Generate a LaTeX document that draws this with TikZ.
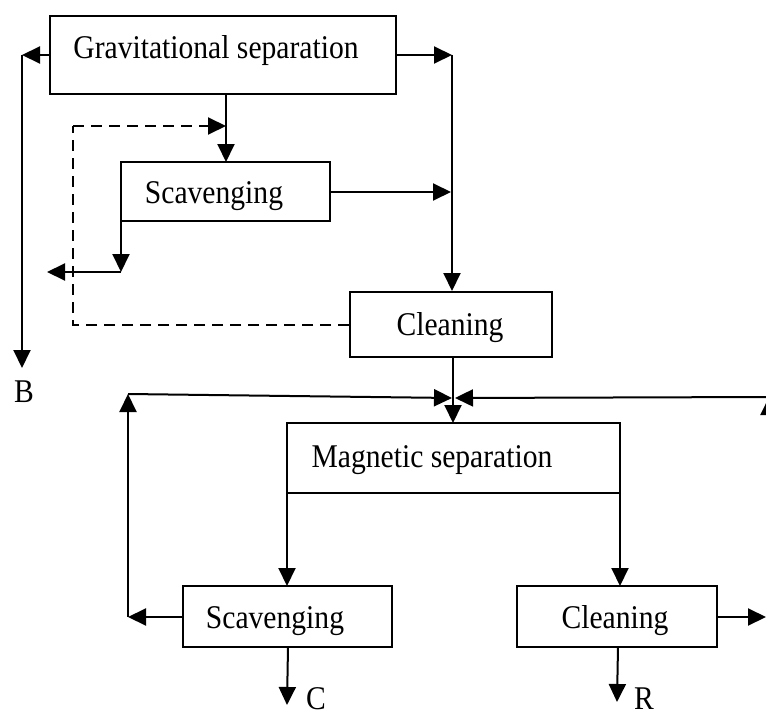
\documentclass[tikz,border=0pt]{standalone}
\usepackage{fontspec}
\setmainfont{Liberation Serif}
\usetikzlibrary{arrows.meta}
\tikzset{
  box/.style={draw, line width=2pt, rectangle, inner sep=0pt},
  txt/.style={inner sep=0pt, anchor=base, font=\fontsize{29.6}{32}\selectfont},
  tip/.style={-{Triangle[length=18pt,width=17pt]}},
  arr/.style={line width=2pt, tip},
  dsh/.style={line width=2pt, dash pattern=on 11pt off 7pt}
}
\newcommand{\tx}[1]{\scalebox{1}[1.12]{#1}}
\begin{document}
\begin{tikzpicture}[x=1pt,y=-1pt]
\useasboundingbox (0,0) rectangle (766,717);
\clip (0,0) rectangle (766,717);
\fill[white] (0,0) rectangle (766,717);
% boxes
\node[box, minimum width=346pt, minimum height=78pt] (g) at (223,55) {};
\node[box, minimum width=209pt, minimum height=59pt] (s1) at (225.5,191.5) {};
\node[box, minimum width=202pt, minimum height=65pt] (c1) at (451,324.5) {};
\node[box, minimum width=333pt, minimum height=70pt] (m) at (453.5,458) {};
\node[box, minimum width=209pt, minimum height=61pt] (s2) at (287.5,616.5) {};
\node[box, minimum width=200pt, minimum height=61pt] (c2) at (617,616.5) {};
% texts
\node[txt] (gt) at (216,59) {\tx{Gravitational separation}};
\node[txt] (s1t) at (214,203) {\tx{Scavenging}};
\node[txt] (c1t) at (450,335) {\tx{Cleaning}};
\node[txt] (mt) at (432,467) {\tx{Magnetic separation}};
\node[txt] (s2t) at (275,628) {\tx{Scavenging}};
\node[txt] (c2t) at (615,628) {\tx{Cleaning}};
\node[txt] (B) at (24,402) {\tx{B}};
\node[txt] (C) at (316,709) {\tx{C}};
\node[txt] (R) at (644,709) {\tx{R}};
% coordinates
\coordinate (gl) at (22,55);
\coordinate (bend) at (22,368);
\coordinate (gr) at (452,55);
\coordinate (s1in) at (226,94);
\coordinate (s1top) at (226,162);
\coordinate (dA) at (73,324.5);
\coordinate (dB) at (73,126);
\coordinate (dC) at (226,126);
\coordinate (s1r) at (451,192);
\coordinate (s1bl) at (121,221);
\coordinate (s1k) at (121,272);
\coordinate (s1o) at (47,272);
\coordinate (mtop) at (453,423);
\coordinate (mbot) at (453,357);
\coordinate (lk) at (128,394);
\coordinate (lb) at (128,617);
\coordinate (mergeL) at (452,398);
\coordinate (mergeR) at (455,398);
\coordinate (rEdge) at (769,397);
\coordinate (rLow) at (769,640);
\coordinate (ms) at (287,493);
\coordinate (mse) at (620,493);
\coordinate (c2in) at (620,586);
\coordinate (s2in) at (287,586);
\coordinate (s2b) at (288,647);
\coordinate (Ctip) at (287,705);
\coordinate (c2b) at (618,647);
\coordinate (Rtip) at (617,702);
\coordinate (c2out) at (766,617);
% connectors
\draw[arr] (g.west) -- (gl);
\draw[arr] (gl) -- (bend);
\draw[arr] (g.east |- gr) -- (gr);
\draw[arr] (gr) -- (gr |- c1.north);
\draw[arr] (s1in) -- (s1top);
\draw[dsh] (c1.west) -- (dA) -- (dB);
\draw[dsh, tip] (dB) -- (dC);
\draw[arr] (s1.east |- s1r) -- (s1r);
\draw[arr] (s1bl) -- (s1k);
\draw[arr] (s1k) -- (s1o);
\draw[arr] (mbot) -- (mtop);
\draw[arr] (lk) -- (mergeL);
\draw[arr] (rEdge) -- (mergeR);
\draw[arr] (rLow) -- (rEdge);
\draw[arr] (s2.west |- lb) -- (lb);
\draw[arr] (lb) -- (lk);
\draw[arr] (ms) -- (s2in);
\draw[arr] (mse) -- (c2in);
\draw[arr] (s2b) -- (Ctip);
\draw[arr] (c2b) -- (Rtip);
\draw[arr] (c2.east |- c2out) -- (c2out);
\end{tikzpicture}
\end{document}
